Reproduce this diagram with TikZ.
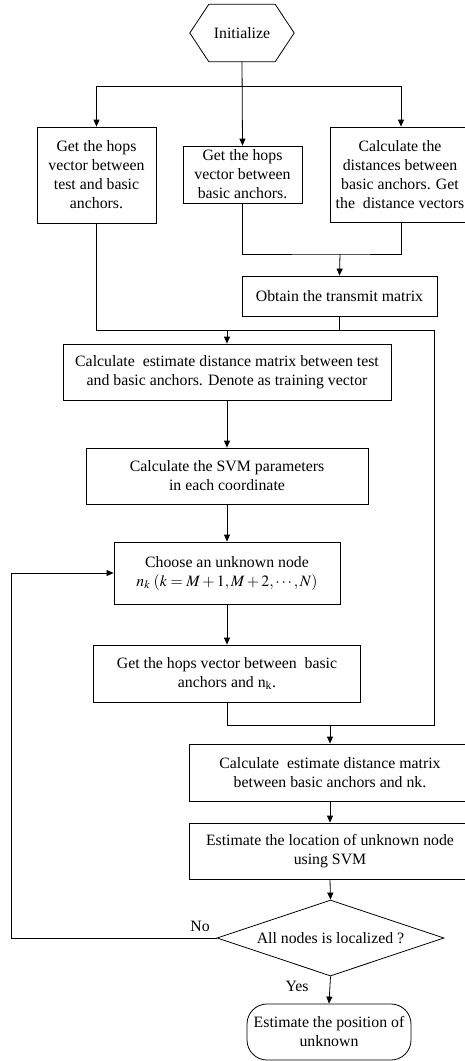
\documentclass[tikz,border=0pt]{standalone}
\usepackage{mathptmx}
\usepackage{fontspec}
\setmainfont{Liberation Serif}
\usetikzlibrary{arrows.meta,shapes.geometric}
\begin{document}
\begin{tikzpicture}[x=1pt,y=-1pt,
  box/.style={draw,line width=0.8pt,inner sep=0pt,align=center,font=\fontsize{15.8}{19}\selectfont},
  lbl/.style={inner sep=0pt,font=\fontsize{15.8}{19}\selectfont},
  ln/.style={line width=0.8pt},
  arr/.style={line width=0.8pt,-{Triangle[length=7pt,width=6pt]}}]
\useasboundingbox (0,0) rectangle (465,1061);
% nodes
\node[lbl,minimum width=66pt,minimum height=57pt] (init) at (242,33) {Initialize};
\draw[ln] (init.north west) -- (init.north east) -- ([xshift=19pt]init.east) -- (init.south east) -- (init.south west) -- ([xshift=-19pt]init.west) -- cycle;
\node[box,minimum width=119pt,minimum height=96pt] (b1) at (96.5,175) {Get the hops\\vector between\\test and basic\\anchors.};
\node[box,minimum width=119pt,minimum height=57pt] (b2) at (242.5,174.5) {Get the hops\\vector between\\basic anchors.};
\node[box,minimum width=140pt,minimum height=95pt] (b3) at (400,174.5) {Calculate the\\distances between\\basic anchors. Get\\the\ \ distance vectors};
\node[box,minimum width=195pt,minimum height=40pt] (tm) at (339.5,296) {Obtain the transmit matrix};
\node[box,minimum width=328pt,minimum height=56pt] (c1) at (227,372) {Calculate\ \ estimate distance matrix between test\\and basic anchors. Denote as training vector};
\node[box,minimum width=282pt,minimum height=56pt] (svm) at (227,476) {Calculate the SVM parameters\\in each coordinate};
\node[box,minimum width=226pt,minimum height=62pt] (ch) at (227,573) {Choose an unknown node\\$n_k\;(k=M+1,M+2,\cdots,N)$};
\node[box,minimum width=267pt,minimum height=57pt] (hp) at (227,673.5) {Get the hops vector between\ \ basic\\anchors and n\textsubscript{k}.};
\node[box,minimum width=282pt,minimum height=57pt] (c2) at (330,772.5) {Calculate\ \ estimate distance matrix\\between basic anchors and nk.};
\node[box,minimum width=282pt,minimum height=56pt] (est) at (330,851) {Estimate the location of unknown node\\using SVM};
\node[box,shape=diamond,aspect=3,minimum width=227pt,minimum height=76pt] (dia) at (330.5,938) {All nodes is localized ?};
\node[box,rounded corners=20pt,minimum width=164pt,minimum height=56pt] (term) at (329,1032) {Estimate the position of\\unknown};
\node[lbl] (no) at (200,926) {No};
\node[lbl] (yes) at (297,986) {Yes};
% coordinates
\coordinate (sp) at (242,86);
\coordinate (j1) at (340,254);
\coordinate (r1) at (434,330);
\coordinate (m1) at (227,330);
\coordinate (j3) at (330,725);
\coordinate (fb) at (11,938);
% connectors
\draw[arr] (init.south) -- (b2.north);
\draw[arr] (sp) -| (b1.north);
\draw[arr] (sp) -| (b3.north -| 401,0);
\draw[ln] (b2.south) |- (j1) -| (b3.south -| 401,0);
\draw[arr] (j1) -- (tm.north);
\draw[ln] (b1.south) |- (r1) |- (hp.south |- j3) -- (hp.south);
\draw[ln] (tm.south) -- (tm.south |- r1);
\draw[arr] (m1) -- (c1.north);
\draw[arr] (c1.south) -- (svm.north);
\draw[arr] (svm.south) -- (ch.north);
\draw[arr] (ch.south) -- (hp.north);
\draw[arr] (j3) -- (c2.north);
\draw[arr] (c2.south) -- (est.north);
\draw[arr] (est.south) -- (dia.north);
\draw[arr] (dia.south) -- (term.north);
\draw[arr] (dia.west) -- (fb) |- (ch.west);
\end{tikzpicture}
\end{document}
